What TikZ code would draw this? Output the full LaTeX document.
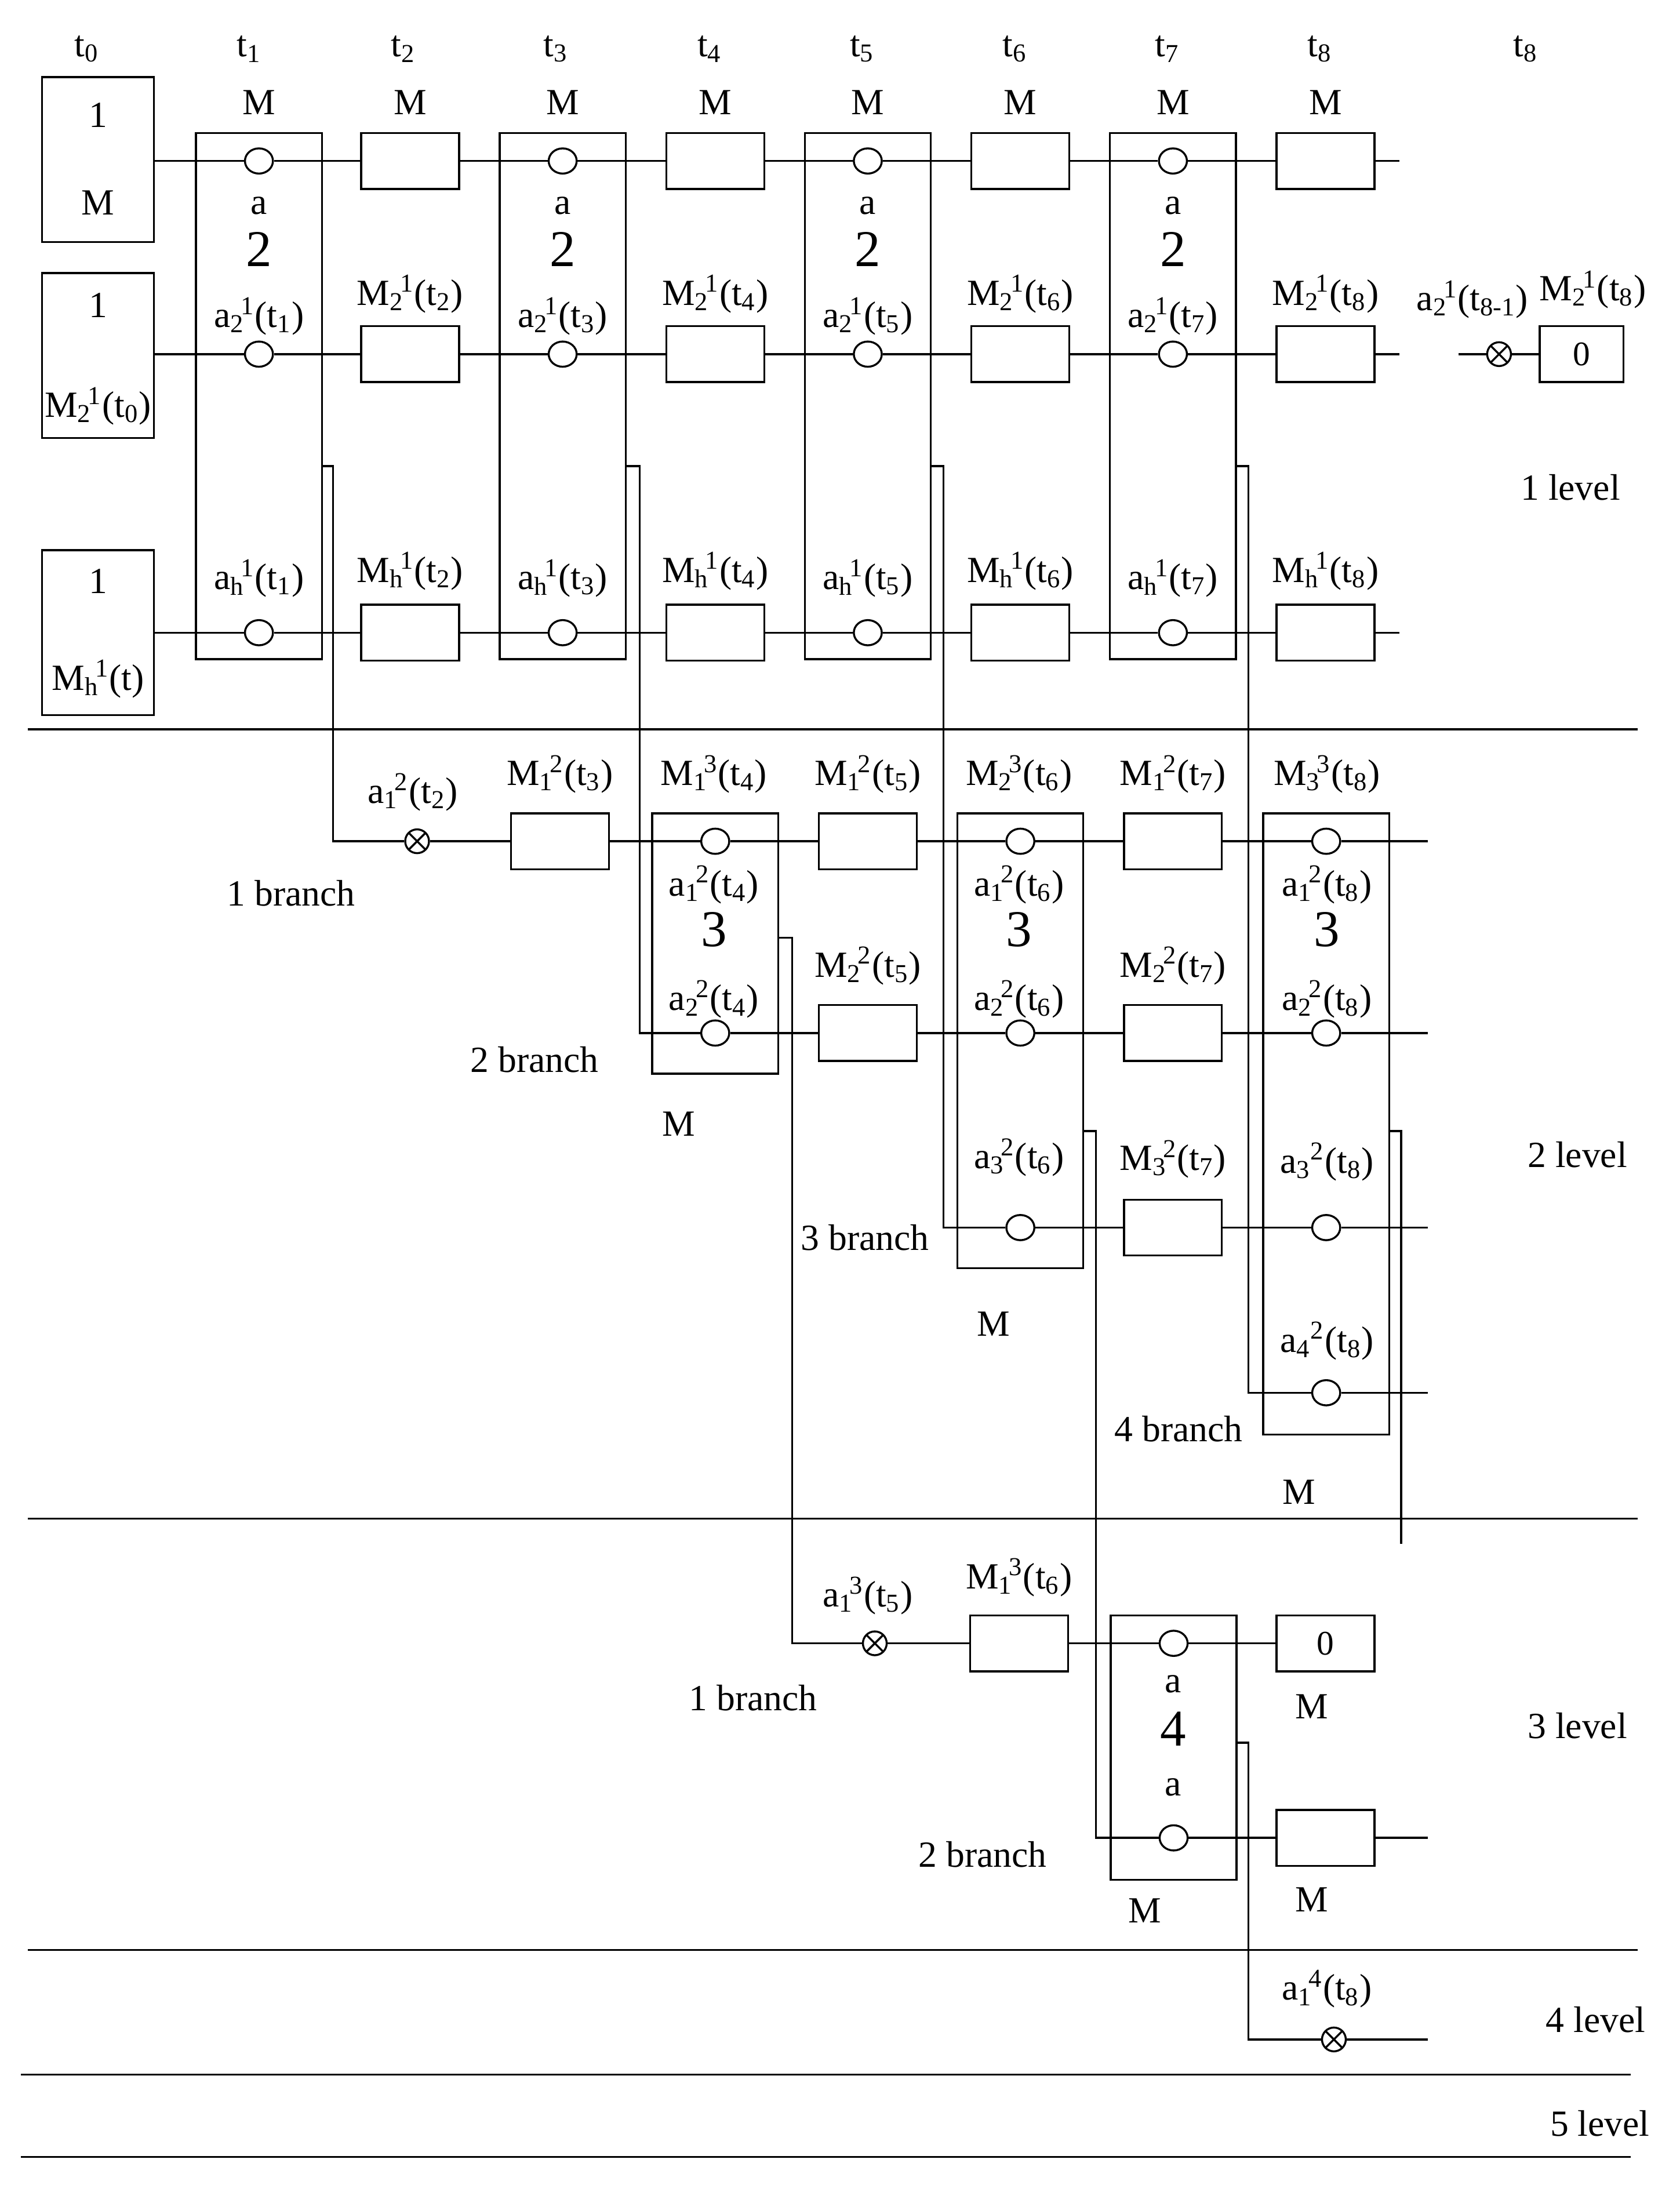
\documentclass[tikz,border=0pt]{standalone}
\usepackage{fontspec}
\setmainfont{Liberation Serif}
\usetikzlibrary{shapes.geometric}
\newcommand{\lbl}[4]{#1\textsubscript{#2}\kern-0.1em\textsuperscript{#3}(t\textsubscript{#4})}
\tikzset{
  box/.style={draw, thick, minimum width=1.4cm, minimum height=0.8cm, inner sep=0pt},
  tall/.style={draw, thick, minimum width=1.8cm, inner sep=0pt},
  circ/.style={draw, thick, fill=white, ellipse, minimum width=0.4cm, minimum height=0.36cm, inner sep=0pt},
  xcirc/.style={draw, thick, fill=white, circle, minimum size=0.34cm, inner sep=0pt,
    path picture={\draw (path picture bounding box.north west) -- (path picture bounding box.south east)
      (path picture bounding box.north east) -- (path picture bounding box.south west);}},
  lab/.style={font=\fontsize{15}{17}\selectfont, inner sep=0pt},
  big/.style={font=\fontsize{21}{23}\selectfont, inner sep=0pt},
  wire/.style={thick}
}
\begin{document}
\begin{tikzpicture}[x=0.02cm, y=-0.02cm, font=\fontsize{14}{16}\selectfont]
  \useasboundingbox (0,0) rectangle (1200,1566);

  % time labels
  \foreach \i/\x in {0/62,1/178,2/288,3/397,4/507,5/616,6/725,7/834,8/943}
    \node[lab] (t\i) at (\x,35) {t\textsubscript{\i}};
  \node[lab] (t9) at (1090,35) {t\textsubscript{8}};
  \foreach \x in {185,293,402,511,620,729,838,947}
    \node[lab] at (\x,73) {M};

  % level 1 left boxes
  \node[draw, thick, minimum width=1.6cm, minimum height=2.36cm] (L1) at (70,114) {};
  \node[draw, thick, minimum width=1.6cm, minimum height=2.36cm] (L2) at (70,254) {};
  \node[draw, thick, minimum width=1.6cm, minimum height=2.36cm] (Lh) at (70,452) {};
  \node[lab] at (70,82) {1};
  \node[lab] at (70,145) {M};
  \node[lab] at (70,218) {1};
  \node[lab] at (70,290) {\lbl{M}{2}{1}{0}};
  \node[lab] at (70,415) {1};
  \node[lab] at (70,485) {M\textsubscript{h}\kern-0.1em\textsuperscript{1}(t)};

  % level 1 tall boxes with switches
  \foreach \c/\x in {1/185,3/402,5/620,7/838} {
    \node[tall, minimum height=7.52cm] (T\c) at (\x,283) {};
    \node[circ] (c\c a) at (\x,115) {};
    \node[circ] (c\c b) at (\x,253) {};
    \node[circ] (c\c h) at (\x,452) {};
    \node[lab] at (\x,147) {a};
    \node[big] at (\x,178) {2};
    \node[lab] at (\x,226) {\lbl{a}{2}{1}{\c}};
    \node[lab] at (\x,413) {\lbl{a}{h}{1}{\c}};
  }
  % level 1 memory boxes
  \foreach \c/\x in {2/293,4/511,6/729,8/947} {
    \node[box] (r\c a) at (\x,115) {};
    \node[box] (r\c b) at (\x,253) {};
    \node[box] (r\c h) at (\x,452) {};
    \node[lab] at (\x,210) {\lbl{M}{2}{1}{\c}};
    \node[lab] at (\x,408) {\lbl{M}{h}{1}{\c}};
  }
  \coordinate (e1a) at (1000,115);
  \coordinate (e1b) at (1000,253);
  \coordinate (e1h) at (1000,452);
  \draw[wire] (L1.east |- c1a) -- (c1a) -- (r2a) -- (c3a) -- (r4a) -- (c5a) -- (r6a) -- (c7a) -- (r8a) -- (e1a);
  \draw[wire] (L2.east |- c1b) -- (c1b) -- (r2b) -- (c3b) -- (r4b) -- (c5b) -- (r6b) -- (c7b) -- (r8b) -- (e1b);
  \draw[wire] (Lh.east |- c1h) -- (c1h) -- (r2h) -- (c3h) -- (r4h) -- (c5h) -- (r6h) -- (c7h) -- (r8h) -- (e1h);

  % far right
  \coordinate (s9) at (1042,253);
  \node[xcirc] (x9) at (1071,253) {};
  \node[box, minimum width=1.2cm] (r9) at (1130,253) {\fontsize{14}{16}\selectfont 0};
  \draw[wire] (s9) -- (x9) -- (r9);
  \node[lab] at (1052,214) {a\textsubscript{2}\kern-0.1em\textsuperscript{1}(t\textsubscript{8-1})};
  \node[lab] at (1138,207) {\lbl{M}{2}{1}{8}};
  \node[lab] at (1122,348) {1 level};

  \coordinate (sepA) at (20,521);
  \coordinate (sepB) at (1170,521);
  \draw[wire] (sepA) -- (sepB);

  % level 2
  \node[xcirc] (x2) at (298,601) {};
  \node[lab] at (295,566) {\lbl{a}{1}{2}{2}};
  \node[box] (r3a) at (400,601) {};
  \node[lab] at (400,553) {\lbl{M}{1}{2}{3}};

  \node[tall, minimum height=3.72cm] (T4) at (511,674) {};
  \node[circ] (c4a) at (511,601) {};
  \node[circ] (c4b) at (511,738) {};
  \node[lab] at (510,553) {\lbl{M}{1}{3}{4}};
  \node[lab] at (510,632) {\lbl{a}{1}{2}{4}};
  \node[big] at (510,664) {3};
  \node[lab] at (510,714) {\lbl{a}{2}{2}{4}};
  \node[lab] at (485,803) {M};

  \node[box] (r5a) at (620,601) {};
  \node[box] (r5b) at (620,738) {};
  \node[lab] at (620,553) {\lbl{M}{1}{2}{5}};
  \node[lab] at (620,690) {\lbl{M}{2}{2}{5}};

  \node[tall, minimum height=6.5cm] (T6) at (729,743.5) {};
  \node[circ] (c6a) at (729,601) {};
  \node[circ] (c6b) at (729,738) {};
  \node[circ] (c6c) at (729,877) {};
  \node[lab] at (728,553) {\lbl{M}{2}{3}{6}};
  \node[lab] at (728,632) {\lbl{a}{1}{2}{6}};
  \node[big] at (728,664) {3};
  \node[lab] at (728,714) {\lbl{a}{2}{2}{6}};
  \node[lab] at (728,827) {\lbl{a}{3}{2}{6}};
  \node[lab] at (710,946) {M};

  \node[box] (r7a) at (838,601) {};
  \node[box] (r7b) at (838,738) {};
  \node[box] (r7c) at (838,877) {};
  \node[lab] at (838,553) {\lbl{M}{1}{2}{7}};
  \node[lab] at (838,690) {\lbl{M}{2}{2}{7}};
  \node[lab] at (838,828) {\lbl{M}{3}{2}{7}};

  \node[tall, minimum height=8.88cm] (T8) at (947.5,803) {};
  \node[circ] (c8a) at (947.5,601) {};
  \node[circ] (c8b) at (947.5,738) {};
  \node[circ] (c8c) at (947.5,877) {};
  \node[circ] (c8d) at (947.5,995) {};
  \node[lab] at (948,553) {\lbl{M}{3}{3}{8}};
  \node[lab] at (948,632) {\lbl{a}{1}{2}{8}};
  \node[big] at (948,664) {3};
  \node[lab] at (948,714) {\lbl{a}{2}{2}{8}};
  \node[lab] at (948,830) {a\textsubscript{3}\textsuperscript{2}(t\textsubscript{8})};
  \node[lab] at (948,958) {a\textsubscript{4}\textsuperscript{2}(t\textsubscript{8})};
  \node[lab] at (928,1066) {M};

  \coordinate (e2a) at (1020,601);
  \coordinate (e2b) at (1020,738);
  \coordinate (e2c) at (1020,877);
  \coordinate (e2d) at (1020,995);

  % branches from level 1
  \coordinate (k1) at (238,333);
  \coordinate (k3) at (457,333);
  \coordinate (k5) at (674,333);
  \coordinate (k7) at (892,333);
  \draw[wire] (T1.east |- k1) -- (k1) -- (k1 |- x2) -- (x2) -- (r3a) -- (c4a) -- (r5a) -- (c6a) -- (r7a) -- (c8a) -- (e2a);
  \draw[wire] (T3.east |- k3) -- (k3) -- (k3 |- c4b) -- (c4b) -- (r5b) -- (c6b) -- (r7b) -- (c8b) -- (e2b);
  \draw[wire] (T5.east |- k5) -- (k5) -- (k5 |- c6c) -- (c6c) -- (r7c) -- (c8c) -- (e2c);
  \draw[wire] (T7.east |- k7) -- (k7) -- (k7 |- c8d) -- (c8d) -- (e2d);

  \node[lab] at (208,638) {1 branch};
  \node[lab] at (382,757) {2 branch};
  \node[lab] at (618,884) {3 branch};
  \node[lab] at (842,1021) {4 branch};
  \node[lab] at (1127,825) {2 level};

  \coordinate (sepC) at (20,1085);
  \coordinate (sepD) at (1170,1085);
  \draw[wire] (sepC) -- (sepD);

  % level 3
  \node[xcirc] (x3) at (625,1174) {};
  \node[lab] at (620,1140) {\lbl{a}{1}{3}{5}};
  \node[box] (r6x) at (728,1174) {};
  \node[lab] at (728,1127) {\lbl{M}{1}{3}{6}};
  \node[tall, minimum height=3.78cm] (T7x) at (838.5,1248.5) {};
  \node[circ] (c7x) at (838.5,1174) {};
  \node[circ] (c7y) at (838.5,1313) {};
  \node[lab] at (838,1203) {a};
  \node[big] at (838,1235) {4};
  \node[lab] at (838,1277) {a};
  \node[lab] at (818,1365) {M};
  \node[box] (r8x) at (947,1174) {0};
  \node[box] (r8y) at (947,1313) {};
  \node[lab] at (937,1219) {M};
  \node[lab] at (937,1357) {M};
  \coordinate (e3b) at (1020,1313);

  \coordinate (k4) at (566,670);
  \coordinate (k6) at (783,808);
  \coordinate (k8) at (1001,808);
  \coordinate (k8e) at (1001,1103);
  \draw[wire] (T4.east |- k4) -- (k4) -- (k4 |- x3) -- (x3) -- (r6x) -- (c7x) -- (r8x);
  \draw[wire] (T6.east |- k6) -- (k6) -- (k6 |- c7y) -- (c7y) -- (r8y) -- (e3b);
  \draw[wire] (T8.east |- k8) -- (k8) -- (k8e);

  \node[lab] at (538,1213) {1 branch};
  \node[lab] at (702,1325) {2 branch};
  \node[lab] at (1127,1233) {3 level};

  \coordinate (sepE) at (20,1393);
  \coordinate (sepF) at (1170,1393);
  \draw[wire] (sepE) -- (sepF);

  % level 4
  \node[xcirc] (x4) at (953,1457) {};
  \node[lab] at (948,1421) {\lbl{a}{1}{4}{8}};
  \coordinate (k9) at (892,1245);
  \coordinate (e4) at (1020,1457);
  \draw[wire] (T7x.east |- k9) -- (k9) -- (k9 |- x4) -- (x4) -- (e4);
  \node[lab] at (1140,1443) {4 level};

  \coordinate (sepG) at (15,1482);
  \coordinate (sepH) at (1165,1482);
  \coordinate (sepI) at (15,1541);
  \coordinate (sepJ) at (1165,1541);
  \draw[wire] (sepG) -- (sepH);
  \draw[wire] (sepI) -- (sepJ);
  \node[lab] at (1143,1517) {5 level};
\end{tikzpicture}
\end{document}
